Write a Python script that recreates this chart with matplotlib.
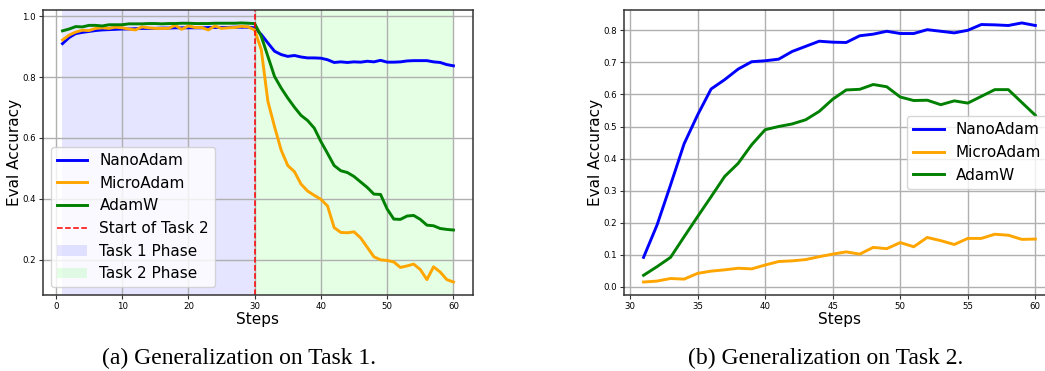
import numpy as np
import matplotlib
matplotlib.use("Agg")
import matplotlib.pyplot as plt

# ---- data: task 1 eval accuracy, steps 1..60
steps1 = np.arange(1, 61)
nano1 = [0.910, 0.930, 0.943, 0.947, 0.950, 0.953, 0.955, 0.956, 0.957, 0.958,
         0.958, 0.959, 0.960, 0.960, 0.960, 0.961, 0.961, 0.962, 0.962, 0.962,
         0.962, 0.962, 0.963, 0.963, 0.963, 0.963, 0.964, 0.964, 0.964, 0.962,
         0.940, 0.912, 0.885, 0.874, 0.868, 0.871, 0.866, 0.863, 0.863, 0.862,
         0.857, 0.848, 0.850, 0.848, 0.850, 0.849, 0.852, 0.850, 0.855, 0.849,
         0.849, 0.850, 0.853, 0.854, 0.854, 0.854, 0.850, 0.848, 0.841, 0.837]
micro1 = [0.922, 0.938, 0.948, 0.954, 0.953, 0.960, 0.962, 0.960, 0.964, 0.962,
          0.958, 0.955, 0.965, 0.962, 0.960, 0.960, 0.960, 0.970, 0.957, 0.968,
          0.963, 0.963, 0.955, 0.968, 0.960, 0.962, 0.963, 0.967, 0.965, 0.955,
          0.890, 0.720, 0.637, 0.560, 0.509, 0.489, 0.448, 0.425, 0.411, 0.398,
          0.376, 0.305, 0.289, 0.288, 0.291, 0.271, 0.240, 0.209, 0.199, 0.197,
          0.192, 0.174, 0.179, 0.185, 0.167, 0.134, 0.176, 0.159, 0.134, 0.126]
adamw1 = [0.952, 0.958, 0.966, 0.965, 0.970, 0.970, 0.968, 0.972, 0.972, 0.972,
          0.975, 0.975, 0.975, 0.976, 0.976, 0.975, 0.976, 0.976, 0.977, 0.977,
          0.976, 0.976, 0.976, 0.977, 0.977, 0.977, 0.977, 0.978, 0.977, 0.976,
          0.934, 0.868, 0.802, 0.764, 0.731, 0.701, 0.674, 0.657, 0.632, 0.588,
          0.549, 0.509, 0.492, 0.486, 0.473, 0.455, 0.437, 0.415, 0.414, 0.366,
          0.333, 0.332, 0.343, 0.345, 0.332, 0.313, 0.311, 0.302, 0.299, 0.297]

# ---- data: task 2 eval accuracy, steps 31..60
steps2 = np.arange(31, 61)
nano2 = [0.092, 0.193, 0.318, 0.446, 0.536, 0.617, 0.646, 0.679, 0.702, 0.705,
         0.710, 0.734, 0.750, 0.766, 0.763, 0.762, 0.783, 0.788, 0.797, 0.790,
         0.790, 0.802, 0.797, 0.792, 0.800, 0.818, 0.817, 0.815, 0.823, 0.815]
micro2 = [0.015, 0.018, 0.026, 0.024, 0.042, 0.049, 0.053, 0.058, 0.056, 0.068,
          0.079, 0.081, 0.085, 0.094, 0.102, 0.109, 0.102, 0.123, 0.119, 0.138,
          0.125, 0.154, 0.144, 0.132, 0.151, 0.151, 0.164, 0.161, 0.148, 0.149]
adamw2 = [0.036, 0.063, 0.092, 0.156, 0.219, 0.281, 0.344, 0.385, 0.443, 0.490,
          0.500, 0.508, 0.521, 0.547, 0.585, 0.614, 0.616, 0.631, 0.624, 0.592,
          0.581, 0.582, 0.568, 0.580, 0.573, 0.594, 0.615, 0.615, 0.575, 0.535]

names = ["NanoAdam", "MicroAdam", "AdamW"]
colors = ["blue", "orange", "green"]
task_switch = 30

fig = plt.figure(figsize=(10.45, 3.71), dpi=100)
ax1 = fig.add_axes([0.0411, 0.2049, 0.4115, 0.7682])
ax2 = fig.add_axes([0.5971, 0.2049, 0.4124, 0.7682])

# left panel
ax1.axvspan(1, task_switch, color="blue", alpha=0.1, lw=0, label="Task 1 Phase")
ax1.axvspan(task_switch, 60, color="lime", alpha=0.1, lw=0, label="Task 2 Phase")
for ys, name, c in zip([nano1, micro1, adamw1], names, colors):
    ax1.plot(steps1, ys, color=c, lw=2.1, label=name)
ax1.axvline(task_switch, color="red", ls="--", lw=1.1, label="Start of Task 2")
ax1.set_xticks([0, 10, 20, 30, 40, 50, 60])
ax1.set_yticks([0.2, 0.4, 0.6, 0.8, 1.0])
h, l = ax1.get_legend_handles_labels()
order = [2, 3, 4, 5, 0, 1]
ax1.legend([h[i] for i in order], [l[i] for i in order], loc="lower left", fontsize=11)

# right panel
for ys, name, c in zip([nano2, micro2, adamw2], names, colors):
    ax2.plot(steps2, ys, color=c, lw=2.1, label=name)
ax2.set_xticks([30, 35, 40, 45, 50, 55, 60])
ax2.set_yticks(np.arange(0, 0.81, 0.1))
ax2.legend(loc="center right", fontsize=11)

for ax in (ax1, ax2):
    ax.grid(True, color="#b0b0b0", lw=1.0)
    ax.set_xlabel("Steps", fontsize=11, labelpad=1)
    ax.set_ylabel("Eval Accuracy", fontsize=11, labelpad=0.5)
    ax.tick_params(labelsize=6.2, length=3, pad=2, color="#333333")
    for sp in ax.spines.values():
        sp.set_color("#333333")
        sp.set_linewidth(1.1)

fig.text(0.2287, 0.033, "(a) Generalization on Task 1.", ha="center", va="center",
         family="Liberation Serif", fontsize=17)
fig.text(0.7904, 0.033, "(b) Generalization on Task 2.", ha="center", va="center",
         family="Liberation Serif", fontsize=17)

fig.savefig("out.png", dpi=100)
